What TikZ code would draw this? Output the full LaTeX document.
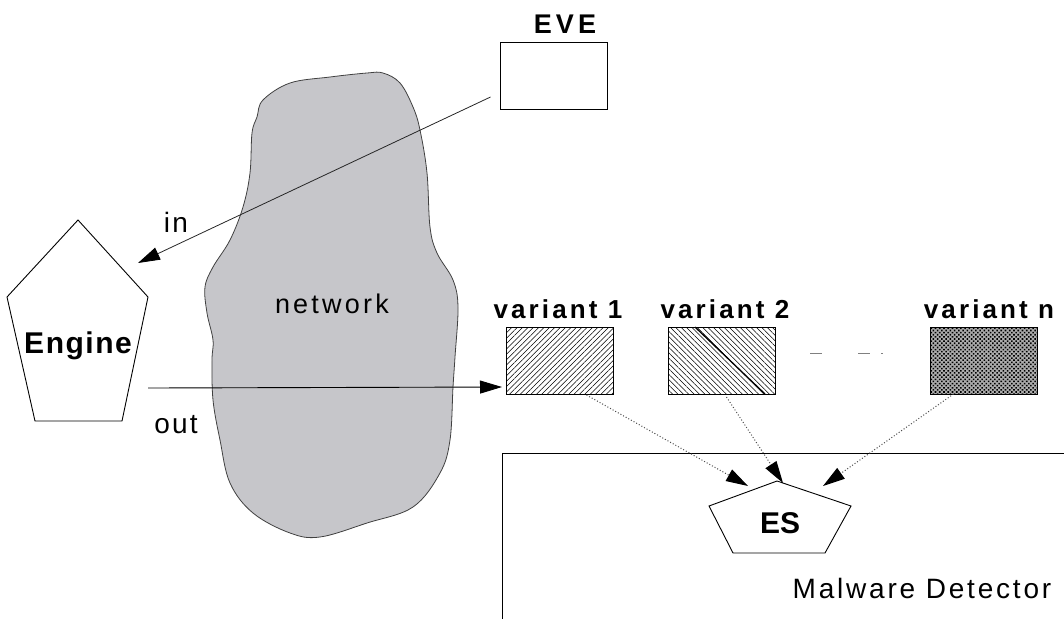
\documentclass[tikz,border=0pt]{standalone}
\usepackage{fontspec}
\setmainfont{Liberation Sans}
\usetikzlibrary{arrows.meta,patterns.meta,calc}

\definecolor{netgray}{RGB}{198,198,202}

\begin{document}
\begin{tikzpicture}[x=1pt,y=-1pt,
  every node/.style={inner sep=0pt,outer sep=0pt},
  txt/.style={anchor=base,font=\fontsize{28}{30}\selectfont\addfontfeature{LetterSpace=8}},
  btxt/.style={anchor=base,font=\fontsize{26}{28}\selectfont\bfseries\addfontfeature{LetterSpace=12}},
  varbox/.style={draw,line width=0.9pt,minimum width=107pt,minimum height=67pt},
  tip/.style={-{Triangle[length=22pt,width=13pt,color=black]}},
  feed/.style={tip,dotted,line width=1pt,gray!60!black},]

  \useasboundingbox (0,0) rectangle (1064,619);

  % network cloud
  \draw[fill=netgray,draw=black!75,line width=0.8pt] plot[smooth cycle,tension=0.6] coordinates {
    (257,117) (263,100) (290,83) (330,77) (367,73) (383,73) (400,83) (413,107)
    (420,130) (427,173) (430,227) (437,253) (453,280) (458,307) (455,357)
    (453,387) (450,440) (440,473) (413,507) (367,523) (320,537) (290,533)
    (253,513) (230,483) (220,440) (213,400) (212,360) (213,340) (207,313)
    (205,287) (213,267) (230,240) (243,207) (250,173) (252,133)};
  \node[txt,font=\fontsize{27}{30}\selectfont\addfontfeature{LetterSpace=12}] (net) at (332,313) {network};

  % eve
  \node[btxt,font=\fontsize{27}{30}\selectfont\bfseries\addfontfeature{LetterSpace=15}] (evetxt) at (565,33) {EVE};
  \node[varbox] (eve) at (554,75.5) {};

  % engine
  \draw[line width=0.9pt,fill=white] (78,220) -- (148,297) -- (122,421) -- (35,421) -- (7,297) -- cycle;
  \node[btxt,font=\fontsize{30}{32}\selectfont\bfseries\addfontfeature{LetterSpace=5}] (engine) at (78,353) {Engine};
  \coordinate (engin) at (138,263);
  \coordinate (engout) at (148,388);

  % variants
  \node[varbox,pattern={Lines[angle=45,distance=3.8pt,line width=0.5pt]}] (v1) at (559.5,360.5) {};
  \node[varbox,pattern={Lines[angle=-45,distance=3.8pt,line width=0.5pt]}] (v2) at (721.5,360.5) {};
  \node[varbox,preaction={fill=gray!65},pattern={Dots[angle=45,distance=3pt,radius=1.1pt]}] (vn) at (983.5,360.5) {};
  \draw[line width=1.3pt] (695,327) -- (765,394);
  \node[btxt] at (558,318) {variant 1};
  \node[btxt] at (725,318) {variant 2};
  \node[btxt] at (989,318) {variant n};
  \draw[gray,line width=1pt] (810,353) -- (822,353) (858,353) -- (870,353) (881,353) -- (883,353);

  % in / out
  \draw[tip,line width=0.8pt,gray!30!black] ($(eve.south west)+(-10,-12)$) -- (engin);
  \node[txt] at (176,232) {in};
  \draw[tip,line width=0.9pt] (engout) -- ($(v1.south west)+(-4,-7)$);
  \node[txt] at (176,433) {out};

  % malware detector
  \draw[line width=0.9pt] (1064,453) -- (502,453) -- (502,619);
  \draw[line width=0.9pt,fill=white] (777,481) -- (851,506) -- (825,553) -- (733,553) -- (709,506) -- cycle;
  \node[btxt,font=\fontsize{30}{32}\selectfont\bfseries] (es) at (780,533) {ES};
  \coordinate (es1) at (748,486);
  \coordinate (es2) at (783,483);
  \coordinate (es3) at (823,486);
  \draw[feed] ($(v1.south)+(27,1)$) -- (es1);
  \draw[feed] ($(v2.south)+(5,3)$) -- (es2);
  \draw[feed] ($(vn.south)+(-30,0)$) -- (es3);
  \node[txt,font=\fontsize{28}{32}\selectfont\addfontfeature{LetterSpace=10}] (detector) at (922,598) {Malware Detector};

\end{tikzpicture}
\end{document}
